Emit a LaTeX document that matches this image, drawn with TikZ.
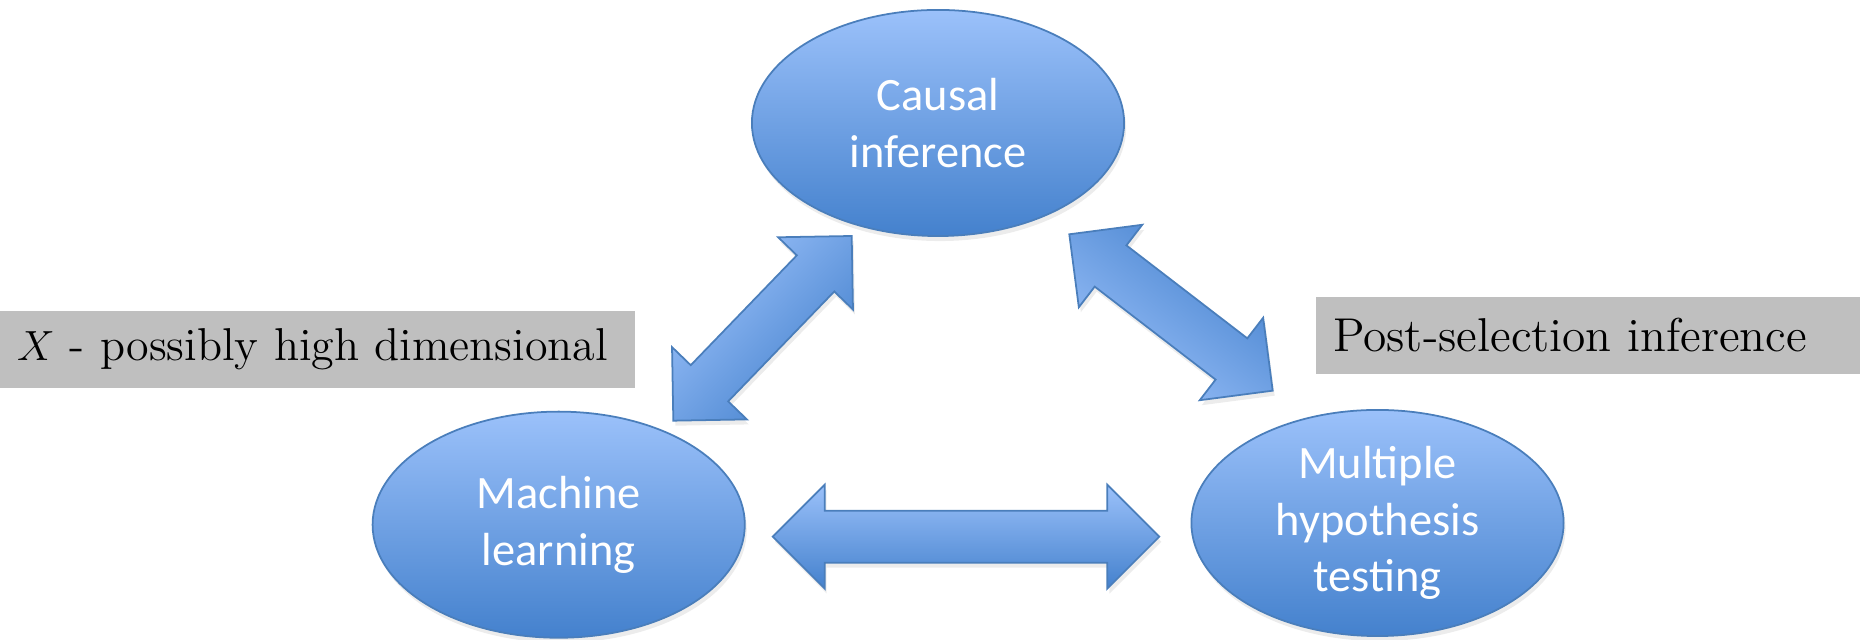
\documentclass[tikz,border=0pt]{standalone}
\usepackage{fontspec}
\usepackage{tikz}
\usetikzlibrary{shapes.geometric,calc,shadows}
\newfontfamily\slidefont{Carlito}
\definecolor{lightblue}{RGB}{155,193,250}
\definecolor{darkblue}{RGB}{68,129,205}
\definecolor{bordblue}{RGB}{74,126,187}
\definecolor{notegray}{RGB}{191,191,191}

% block arrow with a head at both ends: tip, tip, shading angle
\newcommand{\dblarrow}[3]{%
  \coordinate (h1) at ($(#1)!0.52cm!(#2)$);
  \coordinate (h2) at ($(#2)!0.52cm!(#1)$);
  \path[blockarrow, shading angle=#3] (#1)
    -- ($(h1)!0.52cm!90:(#2)$) -- ($(h1)!0.26cm!90:(#2)$)
    -- ($(h2)!0.26cm!-90:(#1)$) -- ($(h2)!0.52cm!-90:(#1)$)
    -- (#2)
    -- ($(h2)!0.52cm!90:(#1)$) -- ($(h2)!0.26cm!90:(#1)$)
    -- ($(h1)!0.26cm!-90:(#2)$) -- ($(h1)!0.52cm!-90:(#2)$)
    -- cycle;}

\begin{document}
\begin{tikzpicture}[x=0.01cm,y=0.01cm]
\tikzset{topic/.style = {shape=ellipse, draw=bordblue, line width=0.5pt,
	top color=lightblue, bottom color=darkblue,
	minimum width=3.72cm, minimum height=2.26cm, inner sep=0pt,
	drop shadow={opacity=0.15, shadow xshift=0.02cm, shadow yshift=-0.05cm}}}
\tikzset{topictext/.style = {text=white, align=center,
	font=\slidefont\fontsize{13.2}{16.1}\selectfont}}
\tikzset{note/.style = {fill=notegray, anchor=west, outer sep=0pt,
	minimum height=0.775cm, inner xsep=0.17cm, align=left,
	font=\fontsize{13.5}{16}\selectfont}}
\tikzset{blockarrow/.style = {draw=bordblue, line width=0.5pt, line join=miter,
	top color=lightblue, bottom color=darkblue,
	drop shadow={opacity=0.15, shadow xshift=0.02cm, shadow yshift=-0.05cm}}}
\useasboundingbox (0,0) rectangle (1860,640);

% topics
\node[topic, label={[topictext]center:Causal\\inference}] (ci) at (938,517) {};
\node[topic, label={[topictext]center:Machine\\learning}] (ml) at (558.7,115.3) {};
\node[topic, label={[topictext]center:Multiple\\hypothesis\\testing}] (mh) at (1377.5,117) {};

% notes
\node[note, text width=6.01cm, font=\fontsize{13.1}{16}\selectfont] (dim) at (0,290.3)
	{\mbox{$X$ - possibly high dimensional}};
\node[note, text width=5.1cm] (psi) at (1316,304.5) {Post-selection inference};

% arrow tips
\coordinate (ml-up) at (673.3,219.3);
\coordinate (ci-dl) at (851.7,404);
\coordinate (ci-dr) at (1069.3,405.7);
\coordinate (mh-up) at (1272.7,249.3);
\coordinate (ml-rt) at (772.7,103.3);
\coordinate (mh-lt) at (1159.3,103.3);

%arrows
\dblarrow{ml-up}{ci-dl}{46}
\dblarrow{mh-up}{ci-dr}{142.4}
\dblarrow{ml-rt}{mh-lt}{0}
\end{tikzpicture}
\end{document}
